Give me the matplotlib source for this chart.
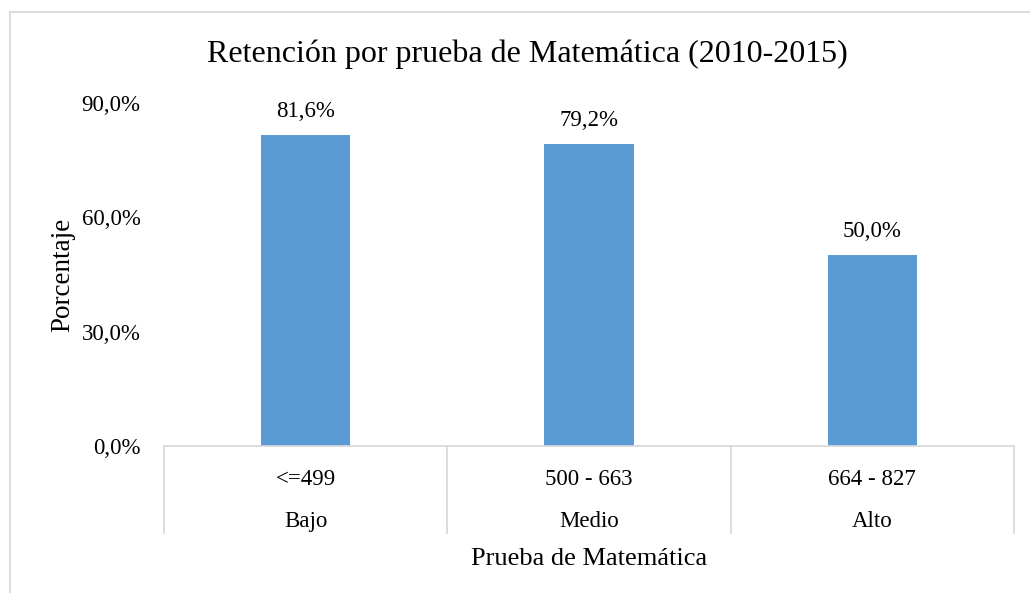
import matplotlib
matplotlib.use("Agg")
import matplotlib.pyplot as plt
from matplotlib.patches import Rectangle
from matplotlib.lines import Line2D
import matplotlib.transforms as mtrans

plt.rcParams['font.family'] = ['Liberation Serif', 'DejaVu Serif']

ranges = ["<=499", "500 - 663", "664 - 827"]
levels = ["Bajo", "Medio", "Alto"]
values = [81.6, 79.2, 50.0]
yticks = [0, 30, 60, 90]
title = "Retención por prueba de Matemática (2010-2015)"
xlabel = "Prueba de Matemática"
ylabel = "Porcentaje"

W, H = 1030, 593
fig = plt.figure(figsize=(W / 100, H / 100), dpi=100)
grey = "#D9D9D9"

# outer chart border (left and top visible)
fig.add_artist(Rectangle((10 / W, -0.1), 1.2, 1 - 12 / H + 0.1, transform=fig.transFigure,
                         fill=False, edgecolor=grey, linewidth=1.3))

ax_top, ax_bot = 103, 446
ax_h = ax_bot - ax_top
ax = fig.add_axes([164 / W, 1 - ax_bot / H, (1014 - 164) / W, ax_h / H])
x = list(range(len(values)))
bars = ax.bar(x, values, width=0.315, color="#5B9BD5", zorder=2)
ax.set_xlim(-0.5, len(values) - 0.5)
ax.set_ylim(0, 90)

trans = mtrans.blended_transform_factory(ax.transData, ax.transAxes)
px = ax_h / 90.0  # pixels per data unit

for b, v in zip(bars, values):
    ax.text(b.get_x() + b.get_width() / 2, v + 18 / px, f"{v:.1f}%".replace(".", ","),
            ha="center", va="baseline", fontsize=16.5)

ax.set_yticks(yticks)
ax.set_yticklabels([f"{t:.1f}%".replace(".", ",") for t in yticks], fontsize=16.5)
ax.tick_params(axis="y", length=0, pad=17)
ax.set_xticks([])

for s in ["top", "right", "left"]:
    ax.spines[s].set_visible(False)
ax.spines["bottom"].set_color(grey)
ax.spines["bottom"].set_linewidth(1.3)

for sx in [-0.5, 0.5, 1.5, 2.5]:
    ax.add_line(Line2D([sx, sx], [0, -87 / ax_h], transform=trans, color=grey,
                       linewidth=1.3, clip_on=False))
for xi, rg, lv in zip(x, ranges, levels):
    ax.text(xi, -(485 - ax_bot) / ax_h, rg, transform=trans, ha="center", va="baseline", fontsize=16.5)
    ax.text(xi, -(527 - ax_bot) / ax_h, lv, transform=trans, ha="center", va="baseline", fontsize=16.5)

ax.text(0.5, -(565 - ax_bot) / ax_h, xlabel, transform=ax.transAxes, ha="center", va="baseline", fontsize=19)
fig.text(63 / W, 1 - 275 / H, ylabel, rotation=90, ha="center", va="center", fontsize=19.5)
fig.text(527 / W, 1 - 62 / H, title, ha="center", va="baseline", fontsize=23)

fig.savefig("out.png", dpi=100, facecolor="white")
